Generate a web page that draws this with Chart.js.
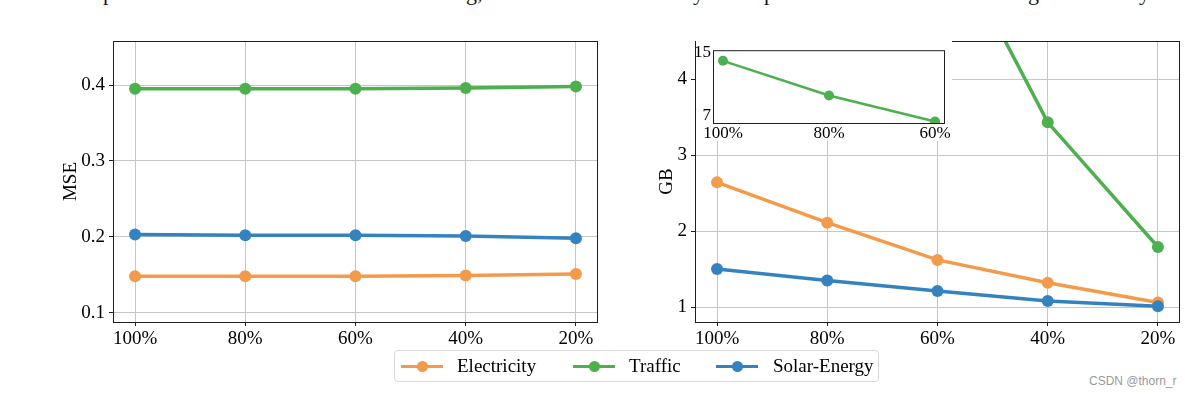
<!DOCTYPE html>
<html>
<head>
<meta charset="utf-8">
<script src="https://cdn.jsdelivr.net/npm/chart.js@4.4.1/dist/chart.umd.min.js"></script>
<style>
html,body{margin:0;padding:0;background:#fff;}
body{width:1192px;height:396px;position:relative;overflow:hidden;font-family:"Liberation Serif","Times New Roman",serif;}
.box{position:absolute;}
.glyph{position:absolute;top:-18px;font-size:22px;line-height:22px;color:#141414;white-space:pre;}
#legend{position:absolute;left:394px;top:350px;width:483px;height:30px;border:1px solid #d9d9d9;border-radius:4px;background:#fff;}
.lg-line{position:absolute;top:14px;width:42px;height:3px;}
.lg-dot{position:absolute;top:10px;width:11px;height:11px;border-radius:50%;}
.lg-text{position:absolute;top:0;line-height:30px;font-size:19px;color:#000;white-space:nowrap;}
#wm{position:absolute;left:1089px;top:374px;font-family:"Liberation Sans",Arial,sans-serif;font-size:12px;color:#9a9a9a;white-space:nowrap;}
</style>
</head>
<body>
<!-- cut-off line of text at the very top (only descenders visible) -->
<span class="glyph" style="left:103px">p</span>
<span class="glyph" style="left:466px">g,</span>
<span class="glyph" style="left:693px">y</span>
<span class="glyph" style="left:764px">p</span>
<span class="glyph" style="left:1028px">g</span>
<span class="glyph" style="left:1139px">y</span>

<div class="box" style="left:50px;top:0px;width:560px;height:352px;"><canvas id="left" width="560" height="352"></canvas></div>
<div class="box" style="left:632px;top:0px;width:560px;height:352px;"><canvas id="right" width="560" height="352"></canvas></div>
<div class="box" style="left:696px;top:38px;width:256px;height:103px;background:#fff;"><canvas id="inset" width="256" height="103"></canvas></div>

<div id="legend"></div>
<div id="wm">CSDN @thorn_r</div>

<script>
// ---------- data ----------
const categories = ['100%', '80%', '60%', '40%', '20%'];
const seriesNames = ['Electricity', 'Traffic', 'Solar-Energy'];

const mseElectricity = [0.148, 0.148, 0.148, 0.149, 0.151];
const mseTraffic     = [0.395, 0.395, 0.395, 0.396, 0.398];
const mseSolar       = [0.203, 0.202, 0.202, 0.201, 0.198];

const gbElectricity = [2.64, 2.11, 1.62, 1.32, 1.06];
const gbTraffic     = [13.9, 9.5, 6.2, 3.43, 1.79];
const gbSolar       = [1.50, 1.35, 1.21, 1.08, 1.01];

const insetCategories = ['100%', '80%', '60%'];
const insetTraffic = gbTraffic.slice(0, 3);

const mseTicks = [0.1, 0.2, 0.3, 0.4];
const gbTicks = [1, 2, 3, 4];
const insetTicks = [7, 15];

// ---------- styles ----------
const COLORS = { Electricity: '#F39A4B', Traffic: '#4DAF4E', 'Solar-Energy': '#3483BE' };
const ORDER = { Electricity: 2, Traffic: 1, 'Solar-Energy': 0 };
const FONT = 'Liberation Serif';
const GRID = '#c6c6c6';
const SPINE = '#1e1e1e';

const toXY = arr => arr.map((v, i) => ({ x: i, y: v }));

const framePlugin = {
  id: 'frame',
  afterDatasetsDraw(chart) {
    const { ctx, chartArea: a } = chart;
    ctx.save();
    ctx.strokeStyle = SPINE;
    ctx.lineWidth = 1;
    ctx.strokeRect(a.left + 0.5, a.top + 0.5, a.right - a.left - 1, a.bottom - a.top);
    ctx.restore();
  }
};

function mkDataset(name, values, lw, r) {
  return {
    label: name,
    data: toXY(values),
    borderColor: COLORS[name],
    backgroundColor: COLORS[name],
    pointBackgroundColor: COLORS[name],
    pointBorderColor: COLORS[name],
    borderWidth: lw,
    pointRadius: r,
    pointBorderWidth: 0,
    pointHoverRadius: r,
    tension: 0,
    clip: 0,
    order: ORDER[name]
  };
}

function mainOptions(yMin, yMax, yTicks, yFmt, yTitle, titlePad) {
  return {
    responsive: false,
    animation: false,
    devicePixelRatio: 1,
    events: [],
    layout: { padding: { top: 41, right: 12, left: 0, bottom: 0 } },
    plugins: { legend: { display: false }, tooltip: { enabled: false } },
    scales: {
      x: {
        type: 'linear', min: -0.2, max: 4.2,
        afterBuildTicks: s => { s.ticks = categories.map((c, i) => ({ value: i })); },
        afterFit: s => { s.height = 30; },
        ticks: { callback: v => categories[v], color: '#000', font: { family: FONT, size: 19 }, padding: 2, maxRotation: 0, autoSkip: false },
        grid: { color: GRID, lineWidth: 1, tickColor: SPINE, tickLength: 4, drawTicks: true },
        border: { display: false }
      },
      y: {
        type: 'linear', min: yMin, max: yMax,
        afterBuildTicks: s => { s.ticks = yTicks.map(v => ({ value: v })); },
        afterFit: s => { s.width = 63; },
        ticks: { callback: yFmt, color: '#000', font: { family: FONT, size: 19 }, padding: 4 },
        grid: { color: GRID, lineWidth: 1, tickColor: SPINE, tickLength: 4, drawTicks: true },
        border: { display: false },
        title: { display: true, text: yTitle, color: '#000', font: { family: FONT, size: 19 }, padding: { top: titlePad, bottom: 0 } }
      }
    }
  };
}

new Chart(document.getElementById('left'), {
  type: 'line',
  data: { datasets: [
    mkDataset('Electricity', mseElectricity, 3.5, 6),
    mkDataset('Traffic', mseTraffic, 3.5, 6),
    mkDataset('Solar-Energy', mseSolar, 3.5, 6)
  ] },
  options: mainOptions(0.0877, 0.458, mseTicks, v => v.toFixed(1), 'MSE', 10),
  plugins: [framePlugin]
});

new Chart(document.getElementById('right'), {
  type: 'line',
  data: { datasets: [
    mkDataset('Electricity', gbElectricity, 3.5, 6),
    mkDataset('Traffic', gbTraffic, 3.5, 6),
    mkDataset('Solar-Energy', gbSolar, 3.5, 6)
  ] },
  options: mainOptions(0.803, 4.5, gbTicks, v => String(v), 'GB', 24),
  plugins: [framePlugin]
});

new Chart(document.getElementById('inset'), {
  type: 'line',
  data: { datasets: [ mkDataset('Traffic', insetTraffic, 2.5, 5) ] },
  options: {
    responsive: false,
    animation: false,
    devicePixelRatio: 1,
    events: [],
    layout: { padding: { top: 11, right: 7, left: 0, bottom: 0 } },
    plugins: { legend: { display: false }, tooltip: { enabled: false } },
    scales: {
      x: {
        type: 'linear', min: -0.094, max: 2.094,
        afterBuildTicks: s => { s.ticks = insetCategories.map((c, i) => ({ value: i })); },
        afterFit: s => { s.height = 18; },
        ticks: { callback: v => insetCategories[v], color: '#000', font: { family: FONT, size: 17 }, padding: 0, maxRotation: 0, autoSkip: false },
        grid: { display: true, drawOnChartArea: false, drawTicks: false },
        border: { display: false }
      },
      y: {
        type: 'linear', min: 6.0, max: 15.25,
        afterBuildTicks: s => { s.ticks = insetTicks.map(v => ({ value: v })); },
        afterFit: s => { s.width = 17; },
        ticks: { callback: v => String(v), color: '#000', font: { family: FONT, size: 17 }, padding: 2 },
        grid: { display: true, drawOnChartArea: false, drawTicks: false },
        border: { display: false }
      }
    }
  },
  plugins: [framePlugin]
});

// ---------- legend ----------
const legendPos = { Electricity: [6, 62], Traffic: [178, 234], 'Solar-Energy': [321, 378] };
const lg = document.getElementById('legend');
seriesNames.forEach(name => {
  const [lx, tx] = legendPos[name];
  const line = document.createElement('div');
  line.className = 'lg-line'; line.style.left = lx + 'px'; line.style.background = COLORS[name];
  const dot = document.createElement('div');
  dot.className = 'lg-dot'; dot.style.left = (lx + 15.5) + 'px'; dot.style.background = COLORS[name];
  const txt = document.createElement('div');
  txt.className = 'lg-text'; txt.style.left = tx + 'px'; txt.textContent = name;
  lg.appendChild(line); lg.appendChild(dot); lg.appendChild(txt);
});
</script>
</body>
</html>
